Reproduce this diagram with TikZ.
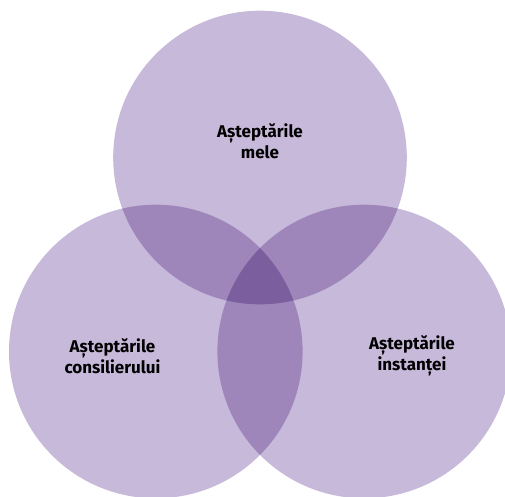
\documentclass[tikz,border=0pt]{standalone}
\usepackage{fontspec}
\setmainfont{Fira Sans}
\begin{document}
\begin{tikzpicture}[x=1pt,y=-1pt,
  lbl/.style={align=center,font=\fontsize{17}{20.5}\selectfont\bfseries,text=black,inner sep=0pt}]
\definecolor{vlight}{RGB}{199,185,218}
\definecolor{vmid}{RGB}{158,133,186}
\definecolor{vdark}{RGB}{122,94,158}
\useasboundingbox (0,0) rectangle (505,496);
\clip (0,0) rectangle (505,496);
\def\R{146.8}
\coordinate (ct) at (260,157.5);
\coordinate (cl) at (155.8,351.5);
\coordinate (cr) at (364.2,351.5);
% base circles
\fill[vlight] (ct) circle (\R);
\fill[vlight] (cl) circle (\R);
\fill[vlight] (cr) circle (\R);
% pairwise overlaps
\begin{scope}
  \clip (ct) circle (\R);
  \fill[vmid] (cl) circle (\R);
  \fill[vmid] (cr) circle (\R);
\end{scope}
\begin{scope}
  \clip (cl) circle (\R);
  \fill[vmid] (cr) circle (\R);
\end{scope}
% triple overlap
\begin{scope}
  \clip (ct) circle (\R);
  \clip (cl) circle (\R);
  \fill[vdark] (cr) circle (\R);
\end{scope}
\node[lbl] (top) at (260,141) {Așteptările\\mele};
\node[lbl] (left) at (112.5,356) {Așteptările\\consilierului};
\node[lbl] (right) at (412,356) {Așteptările\\instanței};
\end{tikzpicture}
\end{document}
